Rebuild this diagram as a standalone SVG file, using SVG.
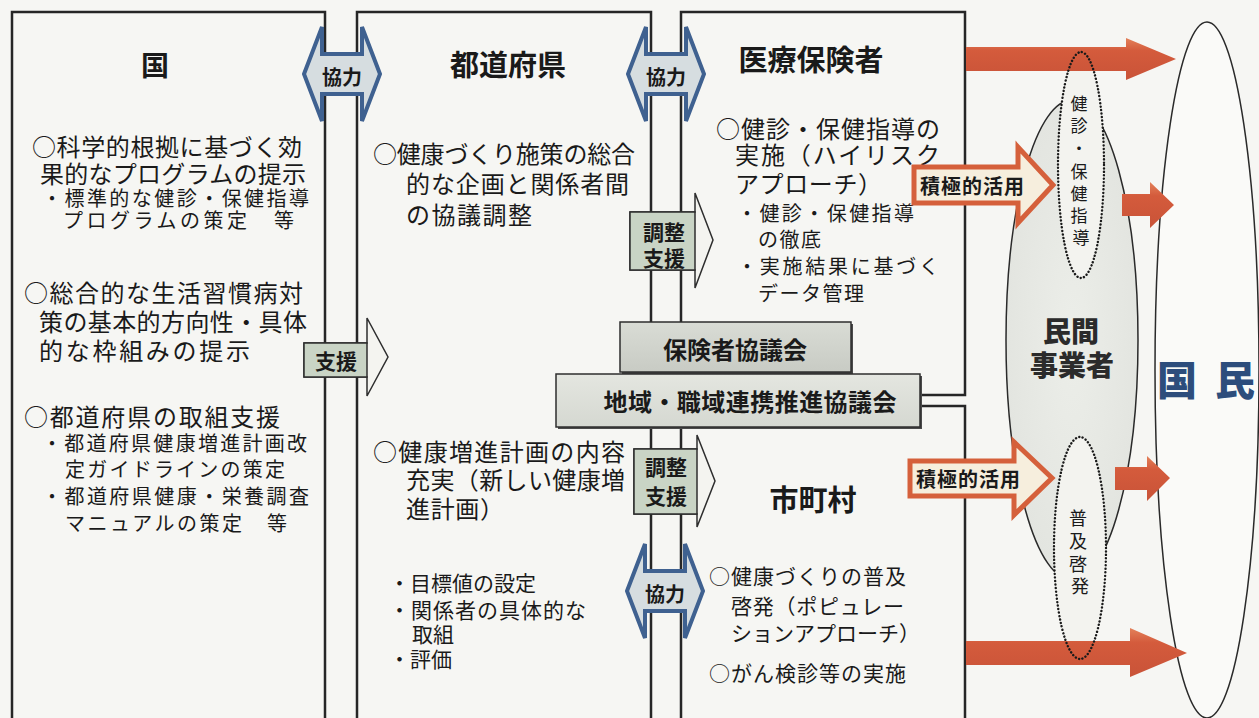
<svg xmlns="http://www.w3.org/2000/svg" width="1259" height="718" viewBox="0 0 1259 718">
<defs>
<style>
text{font-family:"Noto Sans CJK JP","Noto Sans CJK SC",sans-serif;fill:#1a1a1a;dominant-baseline:central}
.box{fill:none;stroke:#262626;stroke-width:2.5}
.ttl{font-size:28px;font-weight:700;text-anchor:middle}
.m{font-size:24px}
.s{font-size:20px}
.s2{font-size:21px}
.coop{fill:#d6dde0;stroke:#3f6190;stroke-width:4;stroke-linejoin:miter}
.lbl{font-size:20px;font-weight:700;text-anchor:middle}
.lbl2{font-size:21px;font-weight:700;text-anchor:middle}
.sup-body{fill:#c9d4c5;stroke:#2e2e2e;stroke-width:1.5}
.sup-head{fill:#f4f4f0;stroke:#2e2e2e;stroke-width:1.5}
.red{fill:url(#redg)}
.act{fill:#f6eedd;stroke:#d5603b;stroke-width:5}
.acttxt{font-size:20px;font-weight:700}
.dotfill{fill:#f3f3ef}
.dot{fill:none;stroke:#1a1a1a;stroke-width:2.4;stroke-dasharray:0.1 3.4;stroke-linecap:round}
.vt{font-size:17px;text-anchor:middle}
.council{stroke:#2e2e2e;stroke-width:1.5}
.ctxt{font-size:24px;font-weight:700;text-anchor:middle}
</style>
<linearGradient id="redg" x1="0" y1="0" x2="0" y2="1">
<stop offset="0" stop-color="#e3815a"/>
<stop offset="0.3" stop-color="#d45b3c"/>
<stop offset="1" stop-color="#c95338"/>
</linearGradient>
<linearGradient id="cg1" x1="0" y1="0" x2="0" y2="1">
<stop offset="0" stop-color="#d9dcd5"/>
<stop offset="1" stop-color="#c8cbc4"/>
</linearGradient>
<linearGradient id="cg2" x1="0" y1="0" x2="0" y2="1">
<stop offset="0" stop-color="#e4e6e0"/>
<stop offset="1" stop-color="#d5d8d1"/>
</linearGradient>
<radialGradient id="mg" cx="0.5" cy="0.5" r="0.5">
<stop offset="0" stop-color="#eceee9"/>
<stop offset="1" stop-color="#e3e5e0"/>
</radialGradient>
</defs>

<rect x="0" y="0" width="1259" height="718" fill="#f6f6f3"/>

<!-- right-side ellipses (background layer) -->
<g id="kokumin">
<ellipse cx="1207" cy="370" rx="52" ry="348" fill="#fafaf8" stroke="#2a2a2a" stroke-width="1.5"/>
<text x="1157" y="378" font-size="40" font-weight="900" style="fill:#2d4d7c" textLength="98" lengthAdjust="spacing">国 民</text>
</g>

<g id="minkan">
<ellipse cx="1072" cy="340" rx="66" ry="240" fill="url(#mg)" stroke="#2a2a2a" stroke-width="1.5"/>
<ellipse class="dotfill" cx="1081" cy="165" rx="23" ry="113"/>
<ellipse class="dotfill" cx="1080" cy="548" rx="26" ry="111"/>
</g>

<!-- column boxes -->
<g id="kuni">
<path class="box" d="M12,718 V12 H325 V718"/>
<text class="ttl" x="155" y="64">国</text>
<text class="m" x="32" y="145" textLength="270" lengthAdjust="spacing">○科学的根拠に基づく効</text>
<text class="m" x="40" y="172" textLength="266" lengthAdjust="spacing">果的なプログラムの提示</text>
<text class="s" x="42" y="197" textLength="267" lengthAdjust="spacing">・標準的な健診・保健指導</text>
<text class="s" x="63" y="219" textLength="231" lengthAdjust="spacing">プログラムの策定　等</text>
<text class="m" x="24" y="291" textLength="279" lengthAdjust="spacing">○総合的な生活習慣病対</text>
<text class="m" x="39" y="320" textLength="268" lengthAdjust="spacing">策の基本的方向性・具体</text>
<text class="m" x="39" y="349" textLength="211" lengthAdjust="spacing">的な枠組みの提示</text>
<text class="m" x="24" y="415" textLength="256" lengthAdjust="spacing">○都道府県の取組支援</text>
<text class="s" x="42" y="442" textLength="265" lengthAdjust="spacing">・都道府県健康増進計画改</text>
<text class="s" x="65" y="468" textLength="220" lengthAdjust="spacing">定ガイドラインの策定</text>
<text class="s" x="42" y="495" textLength="267" lengthAdjust="spacing">・都道府県健康・栄養調査</text>
<text class="s" x="65" y="522" textLength="222" lengthAdjust="spacing">マニュアルの策定　等</text>
</g>

<g id="todofuken">
<path class="box" d="M357,718 V12 H651 V718"/>
<text class="ttl" x="508" y="63" style="font-size:29px">都道府県</text>
<text class="m" x="373" y="152" textLength="262" lengthAdjust="spacing">○健康づくり施策の総合</text>
<text class="m" x="406" y="182" textLength="223" lengthAdjust="spacing">的な企画と関係者間</text>
<text class="m" x="406" y="213" textLength="126" lengthAdjust="spacing">の協議調整</text>
<text class="m" x="373" y="450" textLength="252" lengthAdjust="spacing">○健康増進計画の内容</text>
<text class="m" x="406" y="478" textLength="219" lengthAdjust="spacing">充実（新しい健康増</text>
<text class="m" x="406" y="507" textLength="98" lengthAdjust="spacing">進計画）</text>
<text class="s2" x="389" y="582">・目標値の設定</text>
<text class="s2" x="389" y="609" textLength="197" lengthAdjust="spacing">・関係者の具体的な</text>
<text class="s2" x="412" y="633">取組</text>
<text class="s2" x="389" y="658">・評価</text>
</g>

<g id="iryohokensha">
<path class="box" d="M681,718 V12 H965 V395 H920 M920,406 H965 V718"/>
<text class="ttl" x="811" y="58" style="font-size:29px">医療保険者</text>
<text class="m" x="716" y="127" textLength="224" lengthAdjust="spacing">○健診・保健指導の</text>
<text class="m" x="735" y="153" textLength="205" lengthAdjust="spacing">実施（ハイリスク</text>
<text class="m" x="735" y="182" textLength="147" lengthAdjust="spacing">アプローチ）</text>
<text class="s" x="737" y="212" textLength="177" lengthAdjust="spacing">・健診・保健指導</text>
<text class="s" x="758" y="238" textLength="63" lengthAdjust="spacing">の徹底</text>
<text class="s" x="737" y="265" textLength="202" lengthAdjust="spacing">・実施結果に基づく</text>
<text class="s" x="758" y="292" textLength="106" lengthAdjust="spacing">データ管理</text>
</g>

<g id="shichoson">
<text class="ttl" x="813" y="498" style="font-size:29px">市町村</text>
<text class="s2" x="709" y="575" textLength="197" lengthAdjust="spacing">○健康づくりの普及</text>
<text class="s2" x="731" y="605" textLength="173" lengthAdjust="spacing">啓発（ポピュレー</text>
<text class="s2" x="731" y="632">ションアプローチ）</text>
<text class="s2" x="709" y="672" textLength="197" lengthAdjust="spacing">○がん検診等の実施</text>
</g>

<!-- councils -->
<g id="hokensha-kyogikai">
<rect x="622" y="324" width="231" height="50" fill="#4a4a4a"/>
<rect class="council" x="620" y="322" width="231" height="50" fill="url(#cg1)"/>
<text class="ctxt" x="735" y="348">保険者協議会</text>
</g>
<g id="chiiki-kyogikai">
<rect x="558" y="376" width="364" height="53" fill="#4a4a4a"/>
<rect class="council" x="556" y="374" width="364" height="53" fill="url(#cg2)"/>
<text class="ctxt" x="750" y="400" textLength="293" lengthAdjust="spacing" style="text-anchor:start" transform="translate(-146.5,0)">地域・職域連携推進協議会</text>
</g>

<!-- connectors -->
<g id="connectors">
<!-- 協力 double arrows -->
<polygon class="coop" points="304,74 322,27 322,54 362,54 362,27 380,74 362,121 362,94 322,94 322,121"/>
<text class="lbl" x="342" y="76">協力</text>
<polygon class="coop" points="628,74 646,27 646,54 686,54 686,27 704,74 686,121 686,94 646,94 646,121"/>
<text class="lbl" x="666" y="76">協力</text>
<polygon class="coop" points="627,591 645,544 645,571 685,571 685,544 703,591 685,638 685,611 645,611 645,638"/>
<text class="lbl" x="665" y="593">協力</text>

<!-- 支援 -->
<polygon class="sup-head" points="304,343 367,343 367,318 388,357 367,396 367,377 304,377"/>
<rect class="sup-body" x="304" y="343" width="63" height="34"/>
<text class="lbl2" x="336" y="360">支援</text>

<!-- 調整支援 -->
<polygon class="sup-head" points="630,212 695,212 695,193 713,240 695,288 695,270 630,270"/>
<rect class="sup-body" x="630" y="212" width="65" height="58"/>
<text class="lbl2" x="664" y="231">調整</text>
<text class="lbl2" x="664" y="257">支援</text>

<polygon class="sup-head" points="634,449 697,449 697,435 715,481 697,527 697,514 634,514"/>
<rect class="sup-body" x="634" y="449" width="63" height="65"/>
<text class="lbl2" x="666" y="466">調整</text>
<text class="lbl2" x="666" y="495">支援</text>

<!-- 積極的活用 -->
<polygon class="act" points="914,167 1018,167 1018,147 1053,185 1018,223 1018,203 914,203"/>
<text class="acttxt" x="920" y="185" textLength="104" lengthAdjust="spacing">積極的活用</text>
<polygon class="act" points="910,461 1014,461 1014,442 1052,478 1014,515 1014,496 910,496"/>
<text class="acttxt" x="916" y="478" textLength="104" lengthAdjust="spacing">積極的活用</text>

<!-- red arrows -->
<polygon class="red" points="966,47 1126,47 1126,38 1176,59 1126,80 1126,71 966,71"/>
<polygon class="red" points="1122,194 1150,194 1150,182 1174,205 1150,228 1150,216 1122,216"/>
<polygon class="red" points="1115,467 1147,467 1147,456 1170,478 1147,501 1147,490 1115,490"/>
<polygon class="red" points="966,641 1130,641 1130,628 1187,653 1130,677 1130,665 966,665"/>
</g>

<!-- dotted sub-ellipses -->
<g id="kenshin-hokenshido">
<ellipse class="dot" cx="1081" cy="165" rx="23" ry="113"/>
<text class="vt">
<tspan x="1081" y="102">健</tspan>
<tspan x="1081" y="124">診</tspan>
<tspan x="1081" y="147">・</tspan>
<tspan x="1081" y="170">保</tspan>
<tspan x="1081" y="192">健</tspan>
<tspan x="1081" y="214">指</tspan>
<tspan x="1081" y="236">導</tspan>
</text>
</g>
<g id="fukyu-keihatsu">
<ellipse class="dot" cx="1080" cy="548" rx="26" ry="111"/>
<text class="vt" style="font-size:18px">
<tspan x="1080" y="517">普</tspan>
<tspan x="1080" y="540">及</tspan>
<tspan x="1080" y="563">啓</tspan>
<tspan x="1080" y="585">発</tspan>
</text>
</g>
<g id="minkan-label">
<text x="1071" y="330" font-size="28" font-weight="900" text-anchor="middle" style="fill:#2b2b2b">民間</text>
<text x="1072" y="364" font-size="28" font-weight="900" text-anchor="middle" style="fill:#2b2b2b">事業者</text>
</g>
</svg>
